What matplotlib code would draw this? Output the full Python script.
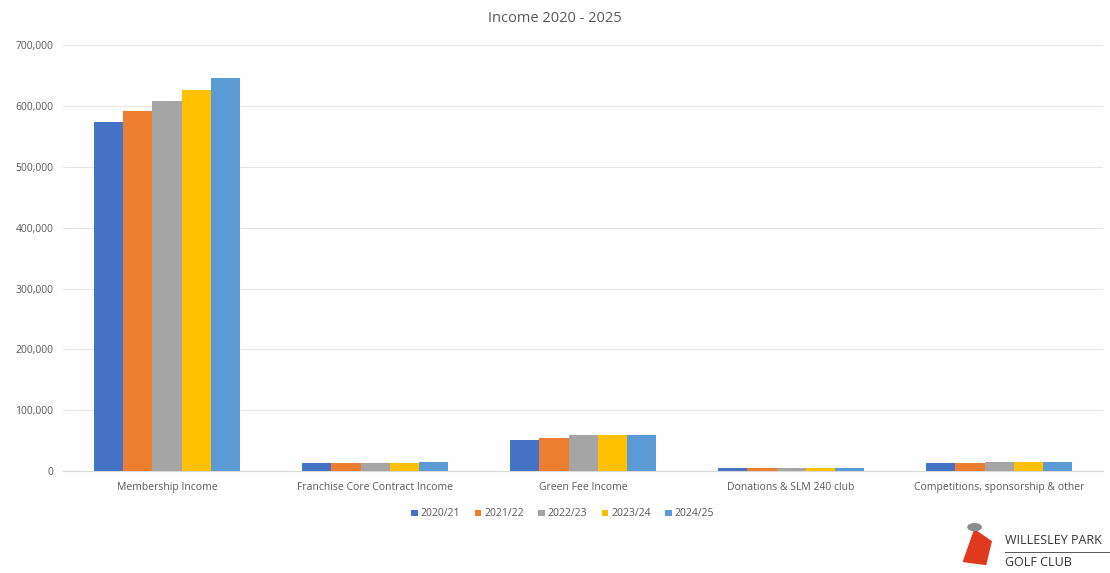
import numpy as np
import matplotlib.pyplot as plt
from matplotlib.ticker import FuncFormatter

categories = ['Membership Income', 'Franchise Core Contract Income', 'Green Fee Income',
              'Donations & SLM 240 club', 'Competitions, sponsorship & other']
years = ['2020/21', '2021/22', '2022/23', '2023/24', '2024/25']
y2020 = [574000, 13500, 51500, 5500, 13800]
y2021 = [591500, 13500, 55000, 5500, 13800]
y2022 = [608500, 13500, 59200, 5500, 15000]
y2023 = [626500, 13500, 59500, 5500, 15000]
y2024 = [647000, 15300, 59500, 5500, 15000]
series = [y2020, y2021, y2022, y2023, y2024]
colors = ['#4472C4', '#ED7D31', '#A5A5A5', '#FFC000', '#5B9BD5']

plt.rcParams['font.family'] = ['Open Sans', 'DejaVu Sans']
txt = '#595959'

fig = plt.figure(figsize=(11.1, 5.73), dpi=100)
ax = fig.add_axes([0.0568, 0.178, 0.937, 0.743])

x = np.arange(len(categories))
w = 0.7 / len(series)
for i, (vals, c, lab) in enumerate(zip(series, colors, years)):
    ax.bar(x + (i - 2) * w, vals, width=w, color=c, label=lab, zorder=3)

ax.set_xlim(-0.5, len(categories) - 0.5)
ax.set_ylim(0, 700000)
ax.set_yticks(np.arange(0, 700001, 100000))
ax.yaxis.set_major_formatter(FuncFormatter(lambda v, p: f'{int(v):,}'))
ax.set_xticks(x)
ax.set_xticklabels(categories)
ax.grid(axis='y', color='#E6E6E6', linewidth=0.8, zorder=0)
for s in ['top', 'right', 'left']:
    ax.spines[s].set_visible(False)
ax.spines['bottom'].set_color('#D9D9D9')
ax.tick_params(axis='both', length=0, colors=txt, labelsize=7.5)
ax.tick_params(axis='x', pad=8)
ax.tick_params(axis='y', pad=7)

fig.text(0.5, 0.968, 'Income 2020 - 2025', ha='center', va='center', fontsize=10.5, color=txt)

fig.legend(loc='center', bbox_to_anchor=(0.507, 0.103), ncol=5, frameon=False,
           fontsize=7.5, labelcolor=txt, handlelength=0.6, handleheight=0.6,
           handletextpad=0.3, columnspacing=1.4)

# club logo (bottom right)
fig.text(0.905, 0.056, 'WILLESLEY PARK', fontsize=9, color='#333333', va='center', ha='left')
fig.text(0.905, 0.018, 'GOLF CLUB', fontsize=9, color='#333333', va='center', ha='left')
fig.add_artist(plt.Line2D([0.905, 1.0], [0.037, 0.037], color='#555555', linewidth=0.7))
fig.add_artist(plt.Polygon([[0.868, 0.02], [0.878, 0.075], [0.893, 0.055], [0.888, 0.015]],
                           closed=True, color='#E03A1E'))
fig.add_artist(plt.Circle((0.878, 0.08), 0.006, color='#8C8C8C'))

fig.savefig('out.png', dpi=100)
